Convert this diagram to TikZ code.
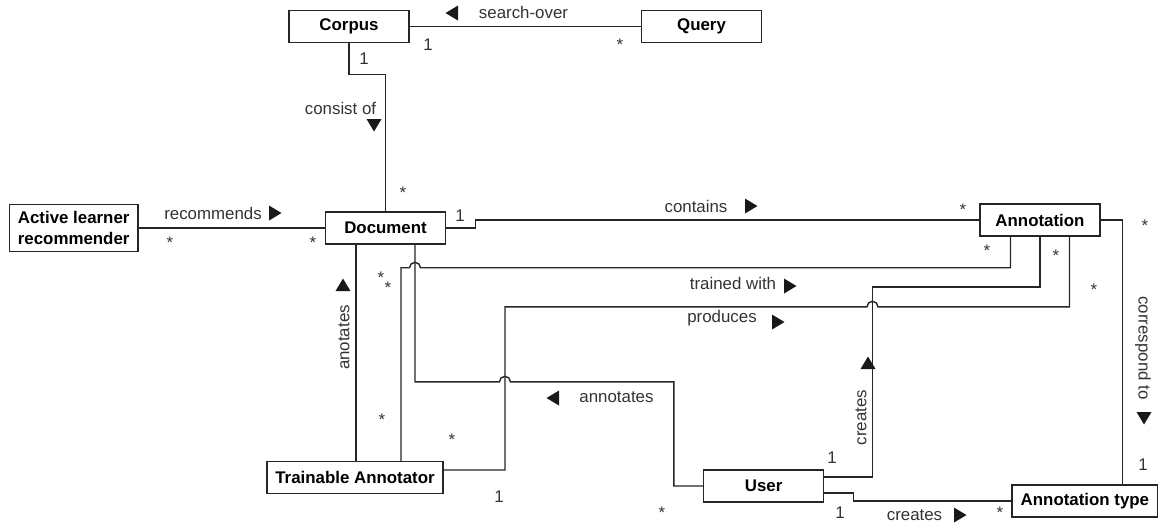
\documentclass[tikz,border=0pt]{standalone}
\usepackage{fontspec}
\setmainfont{Liberation Sans}
\usetikzlibrary{positioning, calc}

\begin{document}
\begin{tikzpicture}[
    x=0.02cm, y=0.02cm,
    cls/.style={rectangle, draw=black!85, line width=0.9pt, fill=white,
                minimum width=2.4cm, minimum height=0.64cm, inner xsep=0.17cm,
                font=\fontsize{9.6}{12.4}\selectfont\bfseries, align=center},
    assoc/.style={line width=0.8pt, black!85},
    lbl/.style={font=\fontsize{9.6}{11}\selectfont, text=black!80, inner sep=0pt},
    mult/.style={lbl, yshift=-0.06cm},
    tri/.pic={\fill[black!90] (-6,7.5) -- (6.5,0) -- (-6,-7.5) -- cycle;}
]
\useasboundingbox (0,0) rectangle (1163,-525);

% Classes
\node[cls] (doc) at (385.5,-228) {Document};
\node[cls, left=3.72cm of doc, minimum height=0.94cm] (active) {Active learner\\recommender};
\node[cls, above=3.36cm of doc, xshift=-0.73cm] (corpus) {Corpus};
\node[cls, right=4.62cm of corpus] (query) {Query};
\node[cls, right=10.66cm of doc, yshift=0.16cm] (annot) {Annotation};
\node[cls, below=4.32cm of doc, xshift=-0.61cm] (trainable) {Trainable Annotator};
\node[cls, right=5.18cm of trainable, yshift=-0.17cm] (user) {User};
\node[cls, right=3.74cm of user, yshift=-0.3cm] (atype) {Annotation type};

% Bend points
\coordinate (anFoot)     at ($(doc.south)+(-29.5,0)$);
\coordinate (annTop)     at ($(doc.south)+(29.5,0)$);
\coordinate (annY)       at ($(annTop)+(0,-137)$);
\coordinate (trnFoot)    at ($(trainable.north)+(46,0)$);
\coordinate (prodCorner) at ($(trainable.east)+(61,7.5)$);
\coordinate (crCorner)   at ($(user.east)+(48,9)$);
\coordinate (prodY)      at ($(annot.south)+(29.5,-70)$);

% Associations
\draw[assoc] (corpus) -- (query);
\draw[assoc] (corpus.south) -- ++(0,-31) -| (doc.north);
\draw[assoc] (active) -- (doc);
\draw[assoc] (doc.east) -- ++(29,0) |- (annot.west);
\draw[assoc] (annot.east) -| ($(atype.north)+(37.5,0)$);
\draw[assoc] ($(user.east)+(0,-7)$) -- ++(29,0) |- (atype.west);
\draw[assoc] (anFoot) -- (anFoot |- trainable.north);
\draw[assoc] (trnFoot) |- ($(annTop)+(-5.5,-23)$)
    arc[start angle=180, end angle=0, radius=5.5] -| ($(annot.south)+(-29.5,0)$);
\draw[assoc] (annTop) -- (annY) -- ($(prodCorner |- annY)+(-5.5,0)$)
    arc[start angle=180, end angle=0, radius=5.5] -| ($(user.west)+(-29,0)$) -- (user.west);
\draw[assoc] ($(trainable.east)+(0,7.5)$) -- (prodCorner) |- ($(crCorner |- prodY)+(-5.5,0)$)
    arc[start angle=180, end angle=0, radius=5.5] -| ($(annot.south)+(29.5,0)$);
\draw[assoc] ($(user.east)+(0,9)$) -- (crCorner) |- ($(annot.south)+(0,-50)$) -- (annot.south);

% Association names
\node[lbl] at (523.5,-12) {search-over};      \pic[rotate=180] at (452,-13) {tri};
\node[lbl] at (340.5,-108) {consist of};      \pic[rotate=-90] at (374,-125) {tri};
\node[lbl] at (213,-213) {recommends};        \pic at (275,-213) {tri};
\node[lbl] at (696,-206) {contains};          \pic at (751,-206) {tri};
\node[lbl] at (733,-283) {trained with};      \pic at (790,-286) {tri};
\node[lbl] at (722,-318) {produces};          \pic at (778,-322) {tri};
\node[lbl] at (616.5,-397) {annotates};       \pic[rotate=180] at (553,-398) {tri};
\node[lbl, rotate=90] at (344,-337.5) {anotates};        \pic[rotate=90] at (343,-285) {tri};
\node[lbl, rotate=90] at (861,-417.5) {creates};         \pic[rotate=90] at (868,-363) {tri};
\node[lbl, rotate=-90] at (1143,-348) {correspond to};   \pic[rotate=-90] at (1144,-418) {tri};
\node[lbl] at (914.5,-515) {creates};         \pic at (960,-515) {tri};

% Multiplicities
\foreach \x/\y in {428/45, 364/59, 460/216, 499/497, 832/458, 840/513, 1143/465}
    \node[lbl] at (\x,-\y) {1};
\foreach \x/\y in {620/42, 403/190, 170/240, 313/240, 963/207, 381/275, 388/285,
                   382/417, 452/437, 662/510, 987/248, 1056/253, 1094/287, 1145/223, 1000/510}
    \node[mult] at (\x,-\y) {*};

\end{tikzpicture}
\end{document}
